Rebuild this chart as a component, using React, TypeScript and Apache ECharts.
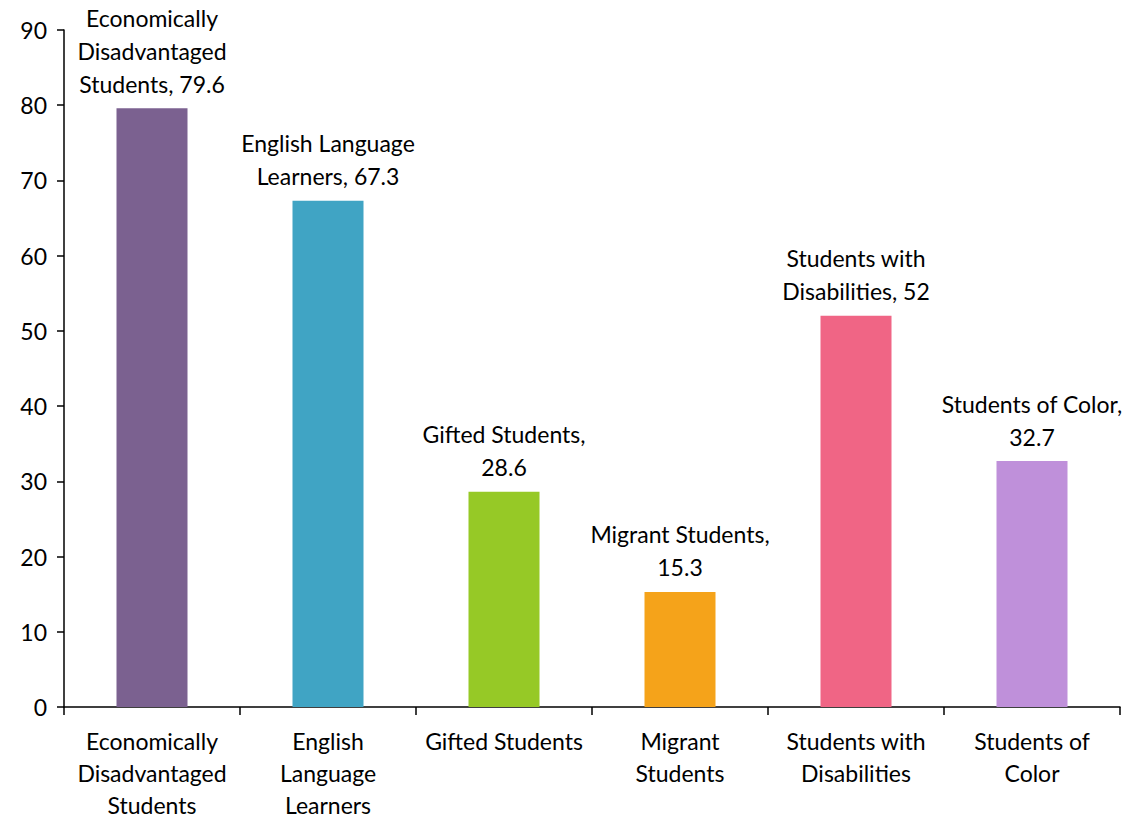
import React, { useEffect, useRef } from "react";
import * as echarts from "echarts";

const categories = [
  "Economically\nDisadvantaged\nStudents",
  "English\nLanguage\nLearners",
  "Gifted Students",
  "Migrant\nStudents",
  "Students with\nDisabilities",
  "Students of\nColor",
];
const barLabels = [
  "Economically\nDisadvantaged\nStudents, 79.6",
  "English Language\nLearners, 67.3",
  "Gifted Students,\n28.6",
  "Migrant Students,\n15.3",
  "Students with\nDisabilities, 52",
  "Students of Color,\n32.7",
];
const values = [79.6, 67.3, 28.6, 15.3, 52, 32.7];
const colors = ["#7B6190", "#40A4C4", "#96C926", "#F5A31A", "#F06585", "#BF90DA"];
const yTicks = { min: 0, max: 90, interval: 10 };

export default function App() {
  const ref = useRef<HTMLDivElement>(null);
  useEffect(() => {
    const chart = echarts.init(ref.current!, null, { renderer: "svg" });
    const font = "Lato, 'Open Sans', sans-serif";
    chart.setOption({
      animation: false,
      grid: { left: 64, right: 15, top: 30, bottom: 110, containLabel: false },
      xAxis: {
        type: "category",
        data: categories,
        axisLine: { lineStyle: { color: "#000", width: 1.5 } },
        axisTick: { show: true, length: 8, lineStyle: { color: "#000", width: 1.5 } },
        axisLabel: {
          color: "#000",
          fontFamily: font,
          fontSize: 23,
          lineHeight: 32,
          margin: 18,
          interval: 0,
        },
      },
      yAxis: {
        type: "value",
        min: yTicks.min,
        max: yTicks.max,
        interval: yTicks.interval,
        splitLine: { show: false },
        axisLine: { show: true, lineStyle: { color: "#000", width: 1.5 } },
        axisTick: { show: true, length: 7, lineStyle: { color: "#000", width: 1.5 } },
        axisLabel: { color: "#000", fontFamily: font, fontSize: 23, margin: 17 },
      },
      series: [
        {
          type: "bar",
          barWidth: 71,
          data: values.map((v, i) => ({ value: v, itemStyle: { color: colors[i] } })),
          label: {
            show: true,
            position: "top",
            distance: 8,
            color: "#000",
            fontFamily: font,
            fontSize: 23,
            lineHeight: 33,
            align: "center",
            formatter: (p: any) => barLabels[p.dataIndex],
          },
        },
      ],
    });
    return () => chart.dispose();
  }, []);
  return <div ref={ref} style={{ width: 1135, height: 821, position: "absolute", left: 0, top: 0 }} />;
}
